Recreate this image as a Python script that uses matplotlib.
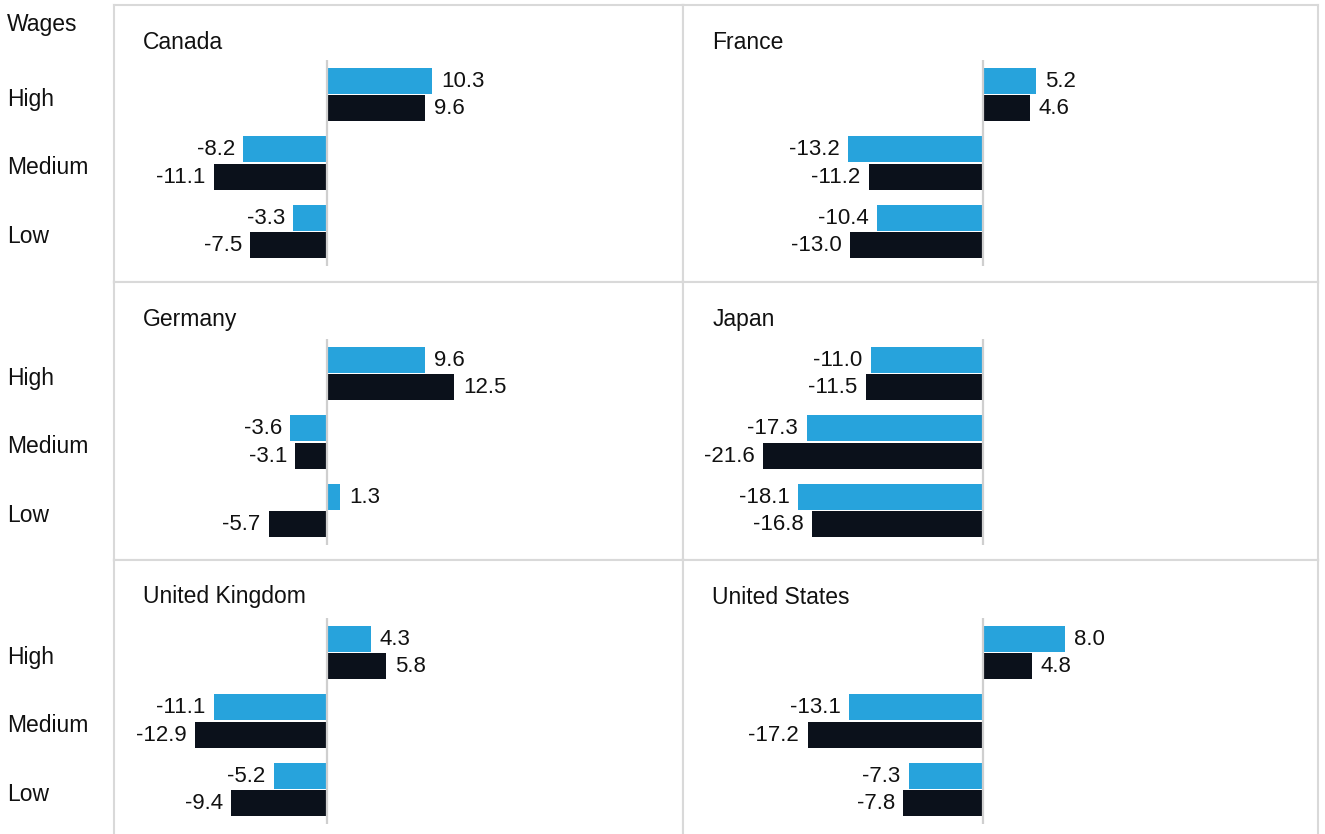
import matplotlib.pyplot as plt
from matplotlib.transforms import blended_transform_factory

plt.rcParams['font.family'] = ['Liberation Sans', 'DejaVu Sans']

wages = ["High", "Medium", "Low"]

# two series per country, order: High, Medium, Low
canada_blue = [10.3, -8.2, -3.3]
canada_black = [9.6, -11.1, -7.5]
france_blue = [5.2, -13.2, -10.4]
france_black = [4.6, -11.2, -13.0]
germany_blue = [9.6, -3.6, 1.3]
germany_black = [12.5, -3.1, -5.7]
japan_blue = [-11.0, -17.3, -18.1]
japan_black = [-11.5, -21.6, -16.8]
uk_blue = [4.3, -11.1, -5.2]
uk_black = [5.8, -12.9, -9.4]
us_blue = [8.0, -13.1, -7.3]
us_black = [4.8, -17.2, -7.8]

panels = [
    ("Canada", canada_blue, canada_black),
    ("France", france_blue, france_black),
    ("Germany", germany_blue, germany_black),
    ("Japan", japan_blue, japan_black),
    ("United Kingdom", uk_blue, uk_black),
    ("United States", us_blue, us_black),
]

BLUE = "#27a3dc"
BLACK = "#0b111b"
GRID = "#d9d9d9"
TXT = "#111111"
FS = 16.5
FS_NUM = 16

W, H = 1325, 834
fig = plt.figure(figsize=(W / 100, H / 100), dpi=100)

col_left = [114, 683]
col_right = [683, 1318]
zero_px = [327, 983]
row_top = [5, 282, 559.5, 838]
group_off = [89.5, 91.5, 93]   # px from panel top to "High" group centre
scale = 10.2      # pixels per unit
unit_y = 68.5     # pixels per category

for i, (name, blue, black) in enumerate(panels):
    row, col = divmod(i, 2)
    left, right = col_left[col], col_right[col]
    top, bottom = row_top[row], row_top[row + 1]
    ph = bottom - top
    ax = fig.add_axes([left / W, 1 - bottom / H, (right - left) / W, ph / H])
    ax.set_xlim(-(zero_px[col] - left) / scale, (right - zero_px[col]) / scale)
    y0 = -group_off[row] / unit_y
    ax.set_ylim(y0 + ph / unit_y, y0)

    ypos = list(range(len(wages)))
    ax.barh([k - 0.2 for k in ypos], blue, height=0.385, color=BLUE, zorder=2)
    ax.barh([k + 0.2 for k in ypos], black, height=0.385, color=BLACK, zorder=2)
    ax.vlines(0, -0.5, 2.5, color="#cfcfcf", lw=1.6, zorder=3)

    for vals, off in ((blue, -0.2), (black, 0.2)):
        for k, v in enumerate(vals):
            if v >= 0:
                ax.annotate(f"{v:.1f}", (v, k + off), xytext=(6.5, -0.5), textcoords="offset points",
                            ha="left", va="center", fontsize=FS_NUM, color=TXT)
            else:
                ax.annotate(f"{v:.1f}", (v, k + off), xytext=(-6, -0.5), textcoords="offset points",
                            ha="right", va="center", fontsize=FS_NUM, color=TXT)

    ax.annotate(name, (0, 1), xycoords="axes fraction", xytext=(21, -27), textcoords="offset points",
                ha="left", va="center", fontsize=FS, color=TXT)

    ax.set_xticks([])
    ax.set_yticks([])
    for s in ax.spines.values():
        s.set_color(GRID)
        s.set_linewidth(1.5)

    if col == 0:
        tr = blended_transform_factory(fig.transFigure, ax.transData)
        for k, w in enumerate(wages):
            ax.text(7 / W, k + 0.07, w, transform=tr, ha="left", va="center",
                    fontsize=FS, color=TXT)

fig.text(7 / W, 1 - 24 / H, "Wages", ha="left", va="center", fontsize=FS, color=TXT)

fig.savefig("out.png", dpi=100)
